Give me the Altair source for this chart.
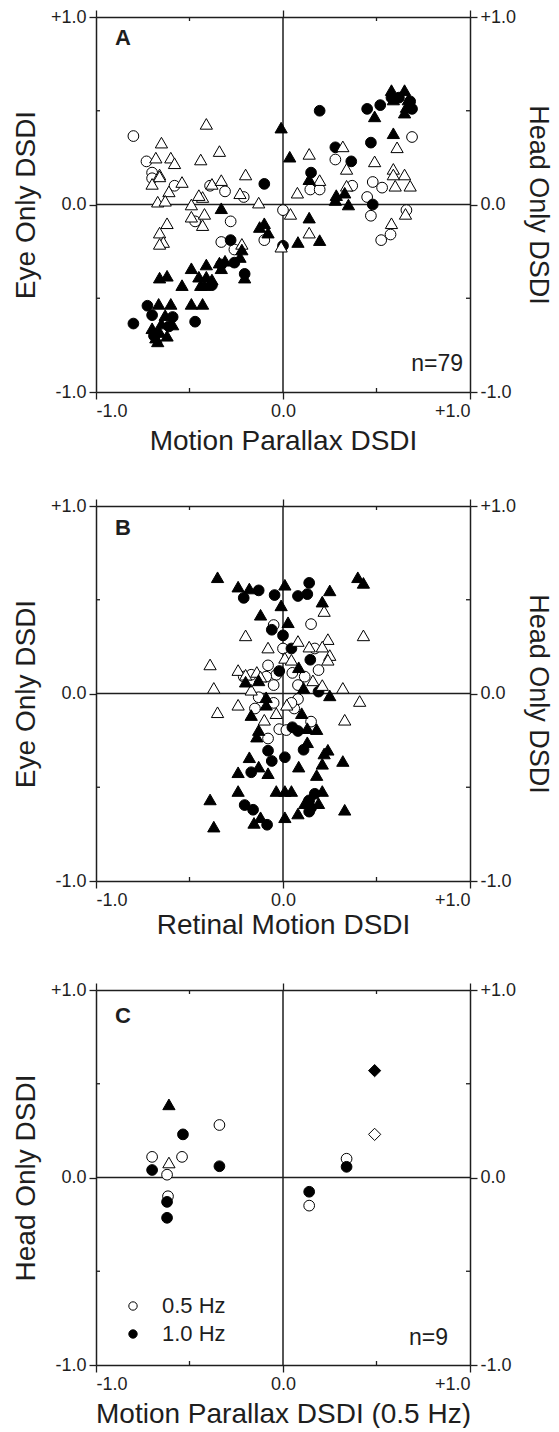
import altair as alt
import pandas as pd

FONT = "Liberation Sans"
INK = "#1e1e1e"
W, H = 374, 375

# ---------------- axis ticks ----------------
TICK_VALUES = [-1.0, 0.0, 1.0]
TICK_LABELS = ["-1.0", "0.0", "+1.0"]
MINOR_TICKS = [-0.5, 0.5]
ZERO = [0.0]

# ---------------- Panel A: Motion parallax vs Eye only / Head only ----------------
A_OPEN_CIRCLES = [(-0.80, 0.365), (-0.73, 0.23), (-0.70, 0.17), (-0.70, 0.14), (-0.58, 0.10),
                  (-0.39, 0.10), (-0.31, 0.07), (-0.21, 0.04), (-0.47, -0.09), (-0.28, -0.09),
                  (0.0, -0.03), (-0.33, -0.20), (-0.26, -0.24), (-0.10, -0.19), (0.69, 0.36),
                  (0.28, 0.24), (0.146, 0.08), (0.196, 0.08), (0.48, 0.12), (0.53, 0.09),
                  (0.45, 0.04), (0.37, 0.10), (0.66, -0.03), (0.47, -0.06), (0.575, -0.16),
                  (0.525, -0.19)]
A_OPEN_TRIANGLES = [(-0.41, 0.43), (-0.65, 0.33), (-0.34, 0.285), (-0.68, 0.25), (-0.60, 0.25),
                    (-0.58, 0.22), (-0.44, 0.24), (-0.20, 0.16), (-0.66, 0.16), (-0.66, 0.15),
                    (-0.70, 0.11), (-0.54, 0.12), (-0.61, 0.07), (-0.38, 0.11), (-0.33, 0.13),
                    (-0.23, 0.06), (-0.67, 0.015), (-0.63, 0.02), (-0.49, 0.0), (-0.43, 0.04),
                    (-0.45, 0.05), (-0.13, 0.01), (-0.49, -0.065), (-0.42, -0.05), (-0.43, -0.11),
                    (-0.62, -0.10), (-0.66, -0.15), (-0.64, -0.20), (-0.66, -0.21), (-0.22, -0.21),
                    (-0.01, -0.225), (0.32, 0.31), (0.14, 0.27), (0.61, 0.305), (0.49, 0.23),
                    (0.34, 0.19), (0.196, 0.13), (0.077, 0.063), (0.59, 0.19), (0.65, 0.16),
                    (0.60, 0.10), (0.68, 0.10), (0.59, 0.16), (0.34, 0.10), (0.04, -0.05),
                    (0.14, -0.15), (0.655, -0.05), (0.58, -0.10)]
A_FILLED_CIRCLES = [(-0.10, 0.11), (-0.28, -0.19), (-0.33, -0.32), (-0.26, -0.31), (-0.205, -0.37),
                    (-0.38, -0.43), (-0.47, -0.625), (-0.80, -0.635), (-0.725, -0.54), (-0.70, -0.59),
                    (-0.59, -0.60), (-0.69, -0.70), (-0.68, -0.69), (-0.61, -0.65), (0.196, 0.50),
                    (0.45, 0.51), (0.52, 0.53), (0.58, 0.57), (0.62, 0.57), (0.68, 0.55),
                    (0.69, 0.51), (0.47, 0.33), (0.28, 0.305), (0.365, 0.23), (0.15, 0.17),
                    (0.48, 0.0), (0.0, -0.22)]
A_FILLED_TRIANGLES = [(-0.01, 0.41), (0.036, 0.255), (-0.33, -0.02), (-0.125, -0.12), (-0.10, -0.10),
                      (-0.08, -0.15), (-0.22, -0.24), (-0.23, -0.28), (-0.34, -0.31), (-0.31, -0.30),
                      (-0.33, -0.34), (-0.205, -0.39), (-0.49, -0.34), (-0.41, -0.32), (-0.45, -0.385),
                      (-0.41, -0.385), (-0.38, -0.40), (-0.42, -0.43), (-0.44, -0.43), (-0.66, -0.39),
                      (-0.62, -0.38), (-0.54, -0.43), (-0.49, -0.53), (-0.43, -0.53), (-0.665, -0.53),
                      (-0.60, -0.53), (-0.63, -0.59), (-0.65, -0.635), (-0.59, -0.64), (-0.70, -0.66),
                      (-0.62, -0.70), (-0.68, -0.71), (-0.66, -0.68), (-0.67, -0.73), (0.58, 0.61),
                      (0.65, 0.61), (0.59, 0.56), (0.67, 0.56), (0.66, 0.52), (0.49, 0.47),
                      (0.65, 0.49), (0.59, 0.38), (0.14, 0.135), (0.28, 0.024), (0.33, 0.063),
                      (0.285, 0.05), (0.35, 0.0), (0.14, -0.07), (0.08, -0.20), (0.196, -0.19)]

# ---------------- Panel B: Retinal motion vs Eye only / Head only ----------------
B_OPEN_CIRCLES = [(-0.05, 0.365), (0.0, 0.24), (-0.08, 0.15), (-0.036, 0.10), (-0.05, 0.045),
                  (-0.21, 0.09), (-0.17, 0.10), (-0.09, 0.09), (0.15, 0.37), (0.17, 0.24),
                  (0.19, 0.125), (0.116, 0.09), (0.05, 0.11), (0.08, 0.045), (-0.13, -0.02),
                  (-0.15, -0.08), (-0.05, -0.05), (-0.02, -0.19), (-0.08, -0.24), (0.06, -0.08),
                  (0.08, -0.03), (0.045, -0.05), (0.15, -0.15), (0.018, -0.195)]
B_OPEN_TRIANGLES = [(-0.20, 0.31), (-0.08, 0.245), (0.01, 0.19), (-0.39, 0.155), (-0.24, 0.125),
                    (-0.20, 0.10), (-0.14, 0.115), (-0.12, 0.09), (-0.37, 0.03), (-0.17, 0.02),
                    (0.22, 0.44), (0.43, 0.31), (0.08, 0.28), (0.24, 0.29), (0.14, 0.25),
                    (0.21, 0.25), (0.25, 0.205), (0.24, 0.18), (0.045, 0.18), (0.16, 0.07),
                    (0.21, 0.045), (0.32, 0.03), (-0.35, -0.10), (-0.24, -0.06), (-0.036, -0.105),
                    (-0.10, -0.14), (0.02, -0.06), (0.41, -0.04), (0.33, -0.14)]
B_FILLED_CIRCLES = [(-0.21, 0.51), (-0.13, 0.55), (-0.045, 0.525), (-0.06, 0.34), (0.0, 0.31),
                    (-0.02, 0.12), (0.14, 0.59), (0.13, 0.53), (0.08, 0.52), (0.045, 0.24),
                    (0.146, 0.18), (0.19, 0.01), (-0.08, -0.305), (-0.06, -0.36), (0.01, -0.34),
                    (-0.17, -0.42), (-0.205, -0.595), (-0.16, -0.62), (-0.085, -0.70), (0.05, -0.18),
                    (0.08, -0.20), (0.11, -0.30), (0.17, -0.535), (0.14, -0.57), (0.14, -0.63),
                    (0.15, -0.61)]
B_FILLED_TRIANGLES = [(-0.35, 0.62), (-0.24, 0.57), (-0.18, 0.56), (0.01, 0.58), (-0.01, 0.47),
                      (-0.12, 0.42), (0.027, 0.38), (-0.20, 0.063), (-0.13, 0.07), (0.40, 0.62),
                      (0.43, 0.59), (0.25, 0.55), (0.21, 0.49), (0.084, 0.14), (0.11, 0.03),
                      (0.25, -0.01), (-0.09, -0.02), (-0.09, -0.06), (-0.17, -0.115), (-0.13, -0.195),
                      (-0.14, -0.23), (-0.18, -0.34), (-0.13, -0.39), (-0.24, -0.42), (-0.08, -0.425),
                      (-0.24, -0.52), (-0.39, -0.565), (-0.036, -0.52), (0.01, -0.52), (-0.12, -0.66),
                      (-0.155, -0.69), (0.01, -0.66), (-0.37, -0.71), (0.10, -0.105), (0.13, -0.185),
                      (0.18, -0.19), (0.13, -0.26), (0.24, -0.30), (0.22, -0.32), (0.21, -0.375),
                      (0.084, -0.39), (0.32, -0.36), (0.18, -0.435), (0.045, -0.52), (0.21, -0.52),
                      (0.19, -0.585), (0.116, -0.585), (0.08, -0.64), (0.33, -0.62)]

# ---------------- Panel C: Motion parallax (0.5 Hz) vs Head only ----------------
C_OPEN_CIRCLES = [(-0.34, 0.28), (-0.70, 0.11), (-0.54, 0.11), (-0.62, 0.015), (-0.615, -0.10),
                  (0.34, 0.10), (0.14, -0.15)]
C_OPEN_TRIANGLES = [(-0.61, 0.08)]
C_OPEN_DIAMONDS = [(0.49, 0.23)]
C_FILLED_CIRCLES = [(-0.535, 0.23), (-0.70, 0.04), (-0.34, 0.06), (-0.62, -0.13), (-0.62, -0.215),
                    (0.34, 0.057), (0.14, -0.076)]
C_FILLED_TRIANGLES = [(-0.61, 0.39)]
C_FILLED_DIAMONDS = [(0.49, 0.57)]

FREQ_LABELS = ["0.5 Hz", "1.0 Hz"]

LABEL_EXPR = " : ".join(
    f"abs(datum.value - ({v})) < 0.001 ? '{lab}'" for v, lab in zip(TICK_VALUES, TICK_LABELS)
) + " : ''"

XS = alt.Scale(domain=[-1, 1], nice=False, zero=False)
YS = alt.Scale(domain=[-1, 1], nice=False, zero=False)

SHAPES = {"circle": ("circle", 115), "triangle": ("triangle-up", 150), "diamond": ("diamond", 150)}


def make_df(series):
    rows = []
    for shape, fill, pts in series:
        for x, y in pts:
            rows.append({"x": x, "y": y, "shape": shape, "fill": fill})
    return pd.DataFrame(rows)


def axis(orient, title=None, labels=True, title_size=28, title_pad=8):
    kw = dict(orient=orient, values=TICK_VALUES, labelExpr=LABEL_EXPR, labels=labels,
              tickSize=7, tickWidth=1.3, tickColor=INK, domain=True, domainColor=INK,
              domainWidth=1.5, labelFont=FONT, labelFontSize=18, labelColor=INK,
              labelPadding=3, grid=False, titleFont=FONT, titleFontSize=title_size,
              titleFontWeight="normal", titleColor=INK, titlePadding=title_pad)
    kw["title"] = title
    return alt.Axis(**kw)


def panel(series, letter, ntext, xtitle, ltitle, rtitle, fill_domain, legend, n_dx, n_y,
          letter_y, xtitle_pad):
    df = make_df(series)
    zero_df = pd.DataFrame({"v": ZERO})
    minor_df = pd.DataFrame({"v": MINOR_TICKS})

    vzero = alt.Chart(zero_df).mark_rule(color=INK, strokeWidth=1.5).encode(
        x=alt.X("v:Q", scale=XS, axis=axis("top", labels=False)),
        y=alt.value(0), y2=alt.value(H))
    hzero = alt.Chart(zero_df).mark_rule(color=INK, strokeWidth=1.5).encode(
        y=alt.Y("v:Q", scale=YS, axis=axis("right", title=rtitle, title_size=27, title_pad=8)),
        x=alt.value(0), x2=alt.value(W))

    tick_mark = dict(color=INK, strokeWidth=1.3)
    minors = [
        alt.Chart(minor_df).mark_rule(**tick_mark).encode(
            x=alt.X("v:Q", scale=XS, axis=None), y=alt.value(0), y2=alt.value(4)),
        alt.Chart(minor_df).mark_rule(**tick_mark).encode(
            x=alt.X("v:Q", scale=XS, axis=None), y=alt.value(H), y2=alt.value(H - 4)),
        alt.Chart(minor_df).mark_rule(**tick_mark).encode(
            y=alt.Y("v:Q", scale=YS, axis=None), x=alt.value(0), x2=alt.value(4)),
        alt.Chart(minor_df).mark_rule(**tick_mark).encode(
            y=alt.Y("v:Q", scale=YS, axis=None), x=alt.value(W), x2=alt.value(W - 4)),
    ]

    fill_enc = alt.Fill("fill:N", scale=alt.Scale(domain=fill_domain, range=["white", "black"]),
                        legend=legend)
    point_layers = []
    first = True
    for key, (vshape, size) in SHAPES.items():
        sub = df[df["shape"] == key]
        if sub.empty:
            continue
        layer = alt.Chart(sub).mark_point(
            shape=vshape, size=size, filled=True, stroke="black", strokeWidth=1, opacity=1
        ).encode(
            x=alt.X("x:Q", scale=XS,
                    axis=axis("bottom", title=xtitle, title_pad=xtitle_pad) if first else None),
            y=alt.Y("y:Q", scale=YS,
                    axis=axis("left", title=ltitle, title_size=28, title_pad=10) if first else None),
            fill=fill_enc,
        )
        first = False
        point_layers.append(layer)

    letter_layer = alt.Chart(pd.DataFrame({"t": [letter]})).mark_text(
        font=FONT, fontSize=22, fontWeight="bold", align="left", baseline="alphabetic", color=INK
    ).encode(x=alt.value(19), y=alt.value(letter_y), text="t:N")
    layers = [vzero, hzero] + minors + point_layers + [letter_layer]
    if ntext:
        n_layer = alt.Chart(pd.DataFrame({"t": [ntext]})).mark_text(
            font=FONT, fontSize=23, align="right", baseline="alphabetic", color=INK
        ).encode(x=alt.value(W - n_dx), y=alt.value(n_y), text="t:N")
        layers.append(n_layer)

    return alt.layer(*layers).resolve_axis(x="independent", y="independent").properties(
        width=W, height=H)


panel_a = panel(
    [("circle", "open", A_OPEN_CIRCLES), ("triangle", "open", A_OPEN_TRIANGLES),
     ("circle", "filled", A_FILLED_CIRCLES), ("triangle", "filled", A_FILLED_TRIANGLES)],
    "A", "n=79", "Motion Parallax DSDI", "Eye Only DSDI", "Head Only DSDI",
    ["open", "filled"], None, 7, 354, 28, 7)

panel_b = panel(
    [("circle", "open", B_OPEN_CIRCLES), ("triangle", "open", B_OPEN_TRIANGLES),
     ("circle", "filled", B_FILLED_CIRCLES), ("triangle", "filled", B_FILLED_TRIANGLES)],
    "B", None, "Retinal Motion DSDI", "Eye Only DSDI", "Head Only DSDI",
    ["open", "filled"], None, 7, 354, 29, 2)

c_legend = alt.Legend(
    orient="none", legendX=26, legendY=305, title=None, symbolType="circle", symbolSize=70,
    symbolStrokeColor="black", symbolStrokeWidth=1, labelFont=FONT, labelFontSize=22,
    labelColor=INK, labelOffset=18, rowPadding=6, padding=0)

panel_c = panel(
    [("circle", FREQ_LABELS[0], C_OPEN_CIRCLES), ("triangle", FREQ_LABELS[0], C_OPEN_TRIANGLES),
     ("diamond", FREQ_LABELS[0], C_OPEN_DIAMONDS),
     ("circle", FREQ_LABELS[1], C_FILLED_CIRCLES), ("triangle", FREQ_LABELS[1], C_FILLED_TRIANGLES),
     ("diamond", FREQ_LABELS[1], C_FILLED_DIAMONDS)],
    "C", "n=9", "Motion Parallax DSDI (0.5 Hz)", "Head Only DSDI", None,
    FREQ_LABELS, c_legend, 22, 355, 33, 7)

chart = alt.vconcat(panel_a, panel_b, panel_c, spacing=42).resolve_scale(
    fill="independent"
).configure_view(stroke=None).properties(
    padding={"top": 8, "left": 12, "right": 7, "bottom": 0}
)

chart.save("out.html", embed_options={"renderer": "svg", "actions": False})
